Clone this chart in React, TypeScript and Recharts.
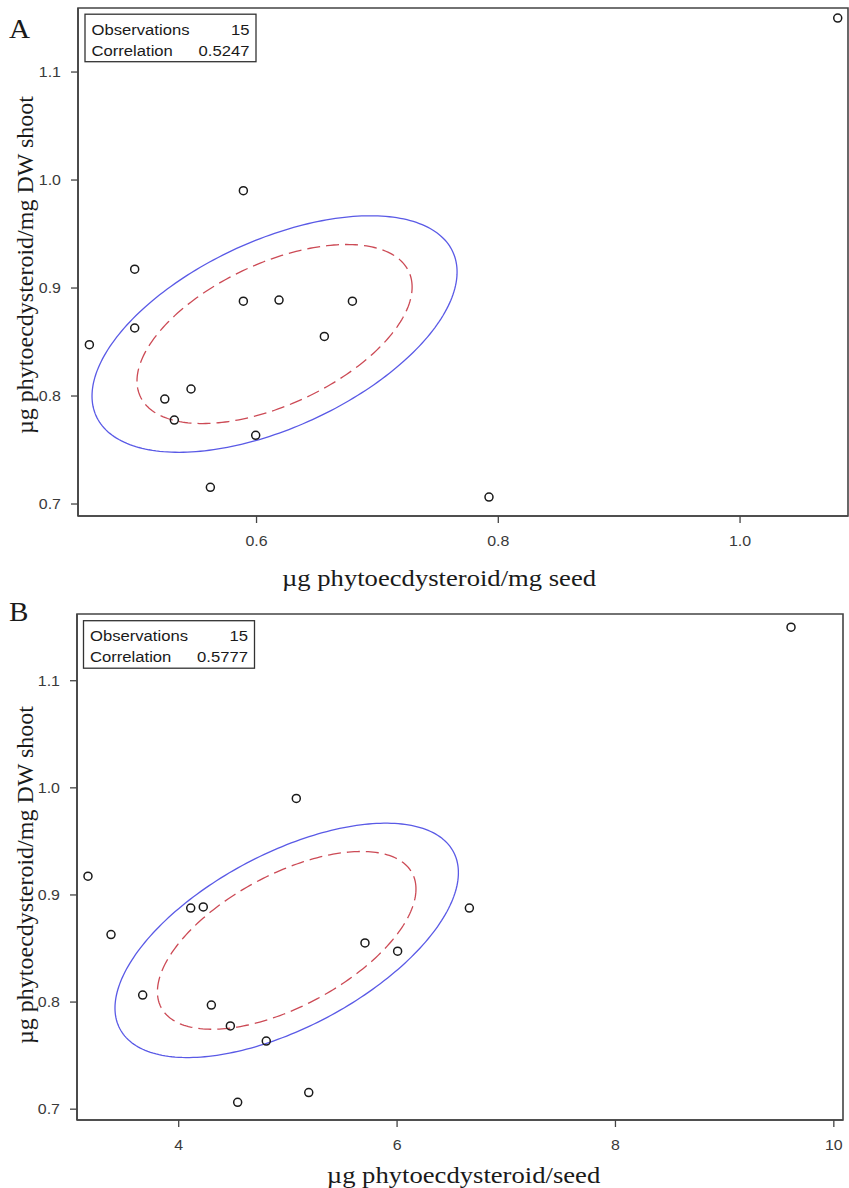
import React from 'react';
import { ScatterChart, Scatter, XAxis, YAxis, ReferenceArea } from 'recharts';

// Shoot concentration (µg phytoecdysteroid / mg DW shoot), one value per plant
const shootConc = [0.8475, 0.9175, 0.863, 0.9901, 0.8878, 0.8888, 0.8878, 0.8552, 0.8065, 0.7972, 0.7777, 0.7636, 0.7155, 0.7064, 1.150];
// Panel A: µg phytoecdysteroid / mg seed (same plant order)
const seedPerMg = [0.4617, 0.4992, 0.4992, 0.5891, 0.5891, 0.6186, 0.6793, 0.6561, 0.5458, 0.5241, 0.532, 0.5993, 0.5618, 0.7923, 1.0808];
// Panel B: µg phytoecdysteroid / seed (same plant order)
const seedPerSeed = [6.005, 3.169, 3.38, 5.077, 4.11, 4.225, 6.662, 5.706, 3.67, 4.299, 4.473, 4.802, 5.191, 4.54, 9.608];

// Axis ticks
const yTicks = [0.7, 0.8, 0.9, 1.0, 1.1];
const xTicksA = [0.6, 0.8, 1.0];
const xTicksB = [4, 6, 8, 10];

// Axis ranges
const xDomainA = [0.4523, 1.0893];
const yDomainA = [0.6889, 1.1593];
const xDomainB = [3.0685, 10.084];
const yDomainB = [0.6899, 1.1623];

// Statistics boxes
const observations = 15;
const correlationA = 0.5247;
const correlationB = 0.5777;

// Ellipse parameters (centre and half-extents in data units)
const ellipseCenterA = { x: 0.6149, y: 0.8574 };
const predictionExtentA = { x: 0.151, y: 0.1095 };
const innerExtentA = { x: 0.1138, y: 0.0829 };
const ellipseCenterB = { x: 4.989, y: 0.8576 };
const predictionExtentB = { x: 1.5726, y: 0.1094 };
const innerExtentB = { x: 1.184, y: 0.083 };

const SERIF = '"Liberation Serif", "Times New Roman", serif';
const SANS = '"Liberation Sans", Arial, sans-serif';
const FRAME = '#444';
const BLUE = '#5a5ae6';
const RED = '#cc4a55';

function ellipsePoints(c: { x: number; y: number }, e: { x: number; y: number }, r: number) {
  const delta = Math.acos(r);
  const pts: { x: number; y: number }[] = [];
  const n = 240;
  for (let i = 0; i <= n; i++) {
    const t = (i / n) * Math.PI * 2;
    pts.push({ x: c.x + e.x * Math.cos(t), y: c.y + e.y * Math.cos(t - delta) });
  }
  return pts;
}

const pointsA = seedPerMg.map((x, i) => ({ x, y: shootConc[i] }));
const pointsB = seedPerSeed.map((x, i) => ({ x, y: shootConc[i] }));

const Marker = (props: any) => (
  <circle cx={props.cx} cy={props.cy} r={4} fill="none" stroke="#1a1a1a" strokeWidth={1.5} />
);
const NoMarker = () => <g />;

const makeXTick = (fmt: (v: number) => string) => (props: any) => {
  const { x, y, payload } = props;
  return (
    <g transform={`translate(${x},${y + 21}) scale(1.1,1)`}>
      <text x={0} y={0} textAnchor="middle" fontSize={14.5} fontFamily={SANS} fill="#3a3a3a">
        {fmt(payload.value)}
      </text>
    </g>
  );
};
const YTick = (props: any) => {
  const { x, y, payload } = props;
  return (
    <g transform={`translate(${x - 8},${y + 5}) scale(1.1,1)`}>
      <text x={0} y={0} textAnchor="end" fontSize={14.5} fontFamily={SANS} fill="#3a3a3a">
        {payload.value.toFixed(1)}
      </text>
    </g>
  );
};

const StretchText = ({ x, y, anchor, size, family, children, sx = 1.11 }: any) => (
  <g transform={`translate(${x},${y}) scale(${sx},1)`}>
    <text x={0} y={0} textAnchor={anchor} fontSize={size} fontFamily={family} fill="#1a1a1a">
      {children}
    </text>
  </g>
);

function Panel({ width, height, margin, yAxisWidth, xAxisHeight, points, xDomain, yDomain, xTicks, xFmt, center, outer, inner, r }: any) {
  const XTick = makeXTick(xFmt);
  return (
    <ScatterChart width={width} height={height} margin={margin}>
      <XAxis
        type="number"
        dataKey="x"
        domain={xDomain}
        ticks={xTicks}
        allowDataOverflow
        height={xAxisHeight}
        tickSize={7}
        tickMargin={2}
        tick={XTick}
        tickLine={{ stroke: FRAME, strokeWidth: 1.3 }}
        axisLine={{ stroke: FRAME, strokeWidth: 1.6 }}
        interval={0}
      />
      <YAxis
        type="number"
        dataKey="y"
        domain={yDomain}
        ticks={yTicks}
        allowDataOverflow
        width={yAxisWidth}
        tickSize={7}
        tickMargin={2}
        tick={YTick}
        tickLine={{ stroke: FRAME, strokeWidth: 1.3 }}
        axisLine={{ stroke: FRAME, strokeWidth: 1.6 }}
        interval={0}
      />
      <ReferenceArea x1={xDomain[0]} x2={xDomain[1]} y1={yDomain[0]} y2={yDomain[1]} fill="none" fillOpacity={0} stroke={FRAME} strokeWidth={1.6} strokeOpacity={1} ifOverflow="visible" />
      <Scatter
        data={ellipsePoints(center, outer, r)}
        shape={NoMarker}
        line={{ stroke: BLUE, strokeWidth: 1.3 }}
        lineType="joint"
        legendType="none"
        isAnimationActive={false}
      />
      <Scatter
        data={ellipsePoints(center, inner, r)}
        shape={NoMarker}
        line={{ stroke: RED, strokeWidth: 1.3, strokeDasharray: '13 6' }}
        lineType="joint"
        legendType="none"
        isAnimationActive={false}
      />
      <Scatter data={points} shape={Marker} isAnimationActive={false} />
    </ScatterChart>
  );
}

function StatsBox({ x, y, corr }: any) {
  return (
    <g>
      <rect x={x} y={y} width={171} height={47.5} fill="#fff" stroke="#333" strokeWidth={1.3} />
      <StretchText x={x + 6.5} y={y + 20.5} anchor="start" size={15} family={SANS}>Observations</StretchText>
      <StretchText x={x + 164.5} y={y + 20.5} anchor="end" size={15} family={SANS}>{String(observations)}</StretchText>
      <StretchText x={x + 6.5} y={y + 41.5} anchor="start" size={15} family={SANS}>Correlation</StretchText>
      <StretchText x={x + 164.5} y={y + 41.5} anchor="end" size={15} family={SANS}>{corr.toFixed(4)}</StretchText>
    </g>
  );
}

export default function App() {
  return (
    <div style={{ position: 'absolute', left: 0, top: 0, width: 849, height: 1188, background: '#fff' }}>
      <div style={{ position: 'absolute', left: 0, top: 0 }}>
        <Panel
          width={849}
          height={600}
          margin={{ top: 8, right: 1, bottom: 0, left: 0 }}
          yAxisWidth={78}
          xAxisHeight={84}
          points={pointsA}
          xDomain={xDomainA}
          yDomain={yDomainA}
          xTicks={xTicksA}
          xFmt={(v: number) => v.toFixed(1)}
          center={ellipseCenterA}
          outer={predictionExtentA}
          inner={innerExtentA}
          r={correlationA}
        />
      </div>
      <div style={{ position: 'absolute', left: 0, top: 600 }}>
        <Panel
          width={849}
          height={588}
          margin={{ top: 14, right: 6, bottom: 0, left: 0 }}
          yAxisWidth={77}
          xAxisHeight={68}
          points={pointsB}
          xDomain={xDomainB}
          yDomain={yDomainB}
          xTicks={xTicksB}
          xFmt={(v: number) => String(v)}
          center={ellipseCenterB}
          outer={predictionExtentB}
          inner={innerExtentB}
          r={correlationB}
        />
      </div>
      <svg width={849} height={1188} style={{ position: 'absolute', left: 0, top: 0, pointerEvents: 'none' }}>
        <StretchText x={9} y={38} anchor="start" size={27} family={SERIF} sx={1.08}>A</StretchText>
        <StretchText x={9} y={620.5} anchor="start" size={27} family={SERIF} sx={1.08}>B</StretchText>
        <text transform="translate(33,265) rotate(-90)" textAnchor="middle" fontSize={24} fontFamily={SERIF} fill="#1a1a1a">
          µg phytoecdysteroid/mg DW shoot
        </text>
        <text transform="translate(33,875) rotate(-90)" textAnchor="middle" fontSize={24} fontFamily={SERIF} fill="#1a1a1a">
          µg phytoecdysteroid/mg DW shoot
        </text>
        <StretchText x={439} y={586} anchor="middle" size={24} family={SERIF}>µg phytoecdysteroid/mg seed</StretchText>
        <StretchText x={463.5} y={1183} anchor="middle" size={24} family={SERIF}>µg phytoecdysteroid/seed</StretchText>
        <StatsBox x={85} y={14.2} corr={correlationA} />
        <StatsBox x={83.5} y={620.7} corr={correlationB} />
      </svg>
    </div>
  );
}
